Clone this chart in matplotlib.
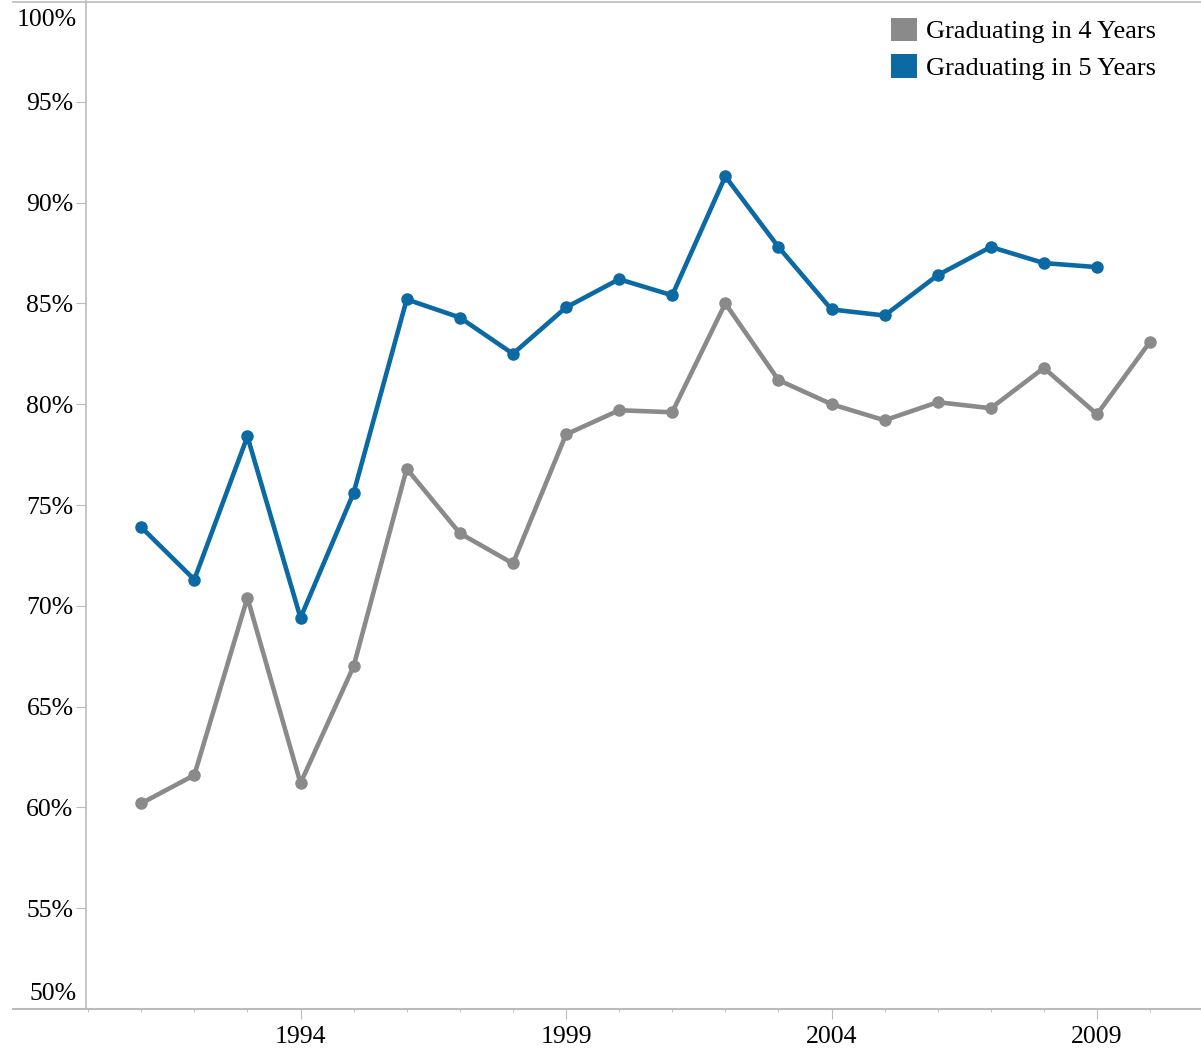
import matplotlib.pyplot as plt
from matplotlib.patches import Patch
from matplotlib.lines import Line2D
from matplotlib.ticker import MultipleLocator

plt.rcParams['font.family'] = ['Liberation Serif', 'DejaVu Serif']

years4 = list(range(1991, 2011))
grad4 = [60.2, 61.6, 70.4, 61.2, 67.0, 76.8, 73.6, 72.1, 78.5, 79.7,
         79.6, 85.0, 81.2, 80.0, 79.2, 80.1, 79.8, 81.8, 79.5, 83.1]
years5 = list(range(1991, 2010))
grad5 = [73.9, 71.3, 78.4, 69.4, 75.6, 85.2, 84.3, 82.5, 84.8, 86.2,
         85.4, 91.3, 87.8, 84.7, 84.4, 86.4, 87.8, 87.0, 86.8]
labels = ["Graduating in 4 Years", "Graduating in 5 Years"]
grey = "#8a8a8a"
blue = "#0b69a3"

W, H = 1201, 1051
fig = plt.figure(figsize=(W/100, H/100), dpi=100)
ax = fig.add_axes([86/W, 1 - 1009/H, (W - 86)/W, 1008/H])

ax.plot(years4, grad4, color=grey, linewidth=3.3, marker='o', markersize=8)
ax.plot(years5, grad5, color=blue, linewidth=3.3, marker='o', markersize=8)

ax.set_xlim(1989.96, 1990 + (W - 86) / 53.2)
ax.set_ylim(50, 100)

# Achsen
for s in ['top', 'right', 'bottom']:
    ax.spines[s].set_visible(False)
ax.spines['left'].set_color('#bbbbbb')
ax.spines['left'].set_linewidth(1.2)
fig.add_artist(Line2D([13/W, 1], [1 - 1009/H] * 2, color='#bbbbbb', lw=1.5))
fig.add_artist(Line2D([13/W, 1], [1 - 1.5/H] * 2, color='#bbbbbb', lw=1.2))

# Ticks
ax.set_xticks([1994, 1999, 2004, 2009])
ax.xaxis.set_minor_locator(MultipleLocator(1))
ax.tick_params(axis='x', which='major', length=7, color='#bbbbbb', labelsize=18.5, pad=5)
ax.tick_params(axis='x', which='minor', length=2, color='#bbbbbb')

yt = list(range(55, 100, 5))
ax.set_yticks(yt)
ax.set_yticklabels([f"{v}%" for v in yt])
ax.tick_params(axis='y', length=7, color='#bbbbbb', labelsize=18.5, pad=2)

# 100% und 50% nach innen versetzt (wie im Original)
for val, dy in [(100, -13.5), (50, 11)]:
    ax.annotate(f"{val}%", xy=(0, val), xycoords=('axes fraction', 'data'),
                xytext=(-6.5, dy), textcoords='offset points',
                ha='right', va='center', fontsize=18.5)

# Legende
handles = [Patch(facecolor=grey), Patch(facecolor=blue)]
ax.legend(handles, labels, loc='upper right', frameon=False, fontsize=19,
          handlelength=1.0, handleheight=1.0, handletextpad=0.32,
          labelspacing=0.4, bbox_to_anchor=(0.969, 1 - 6/1008), borderaxespad=0)

fig.savefig("out.png", dpi=100)
